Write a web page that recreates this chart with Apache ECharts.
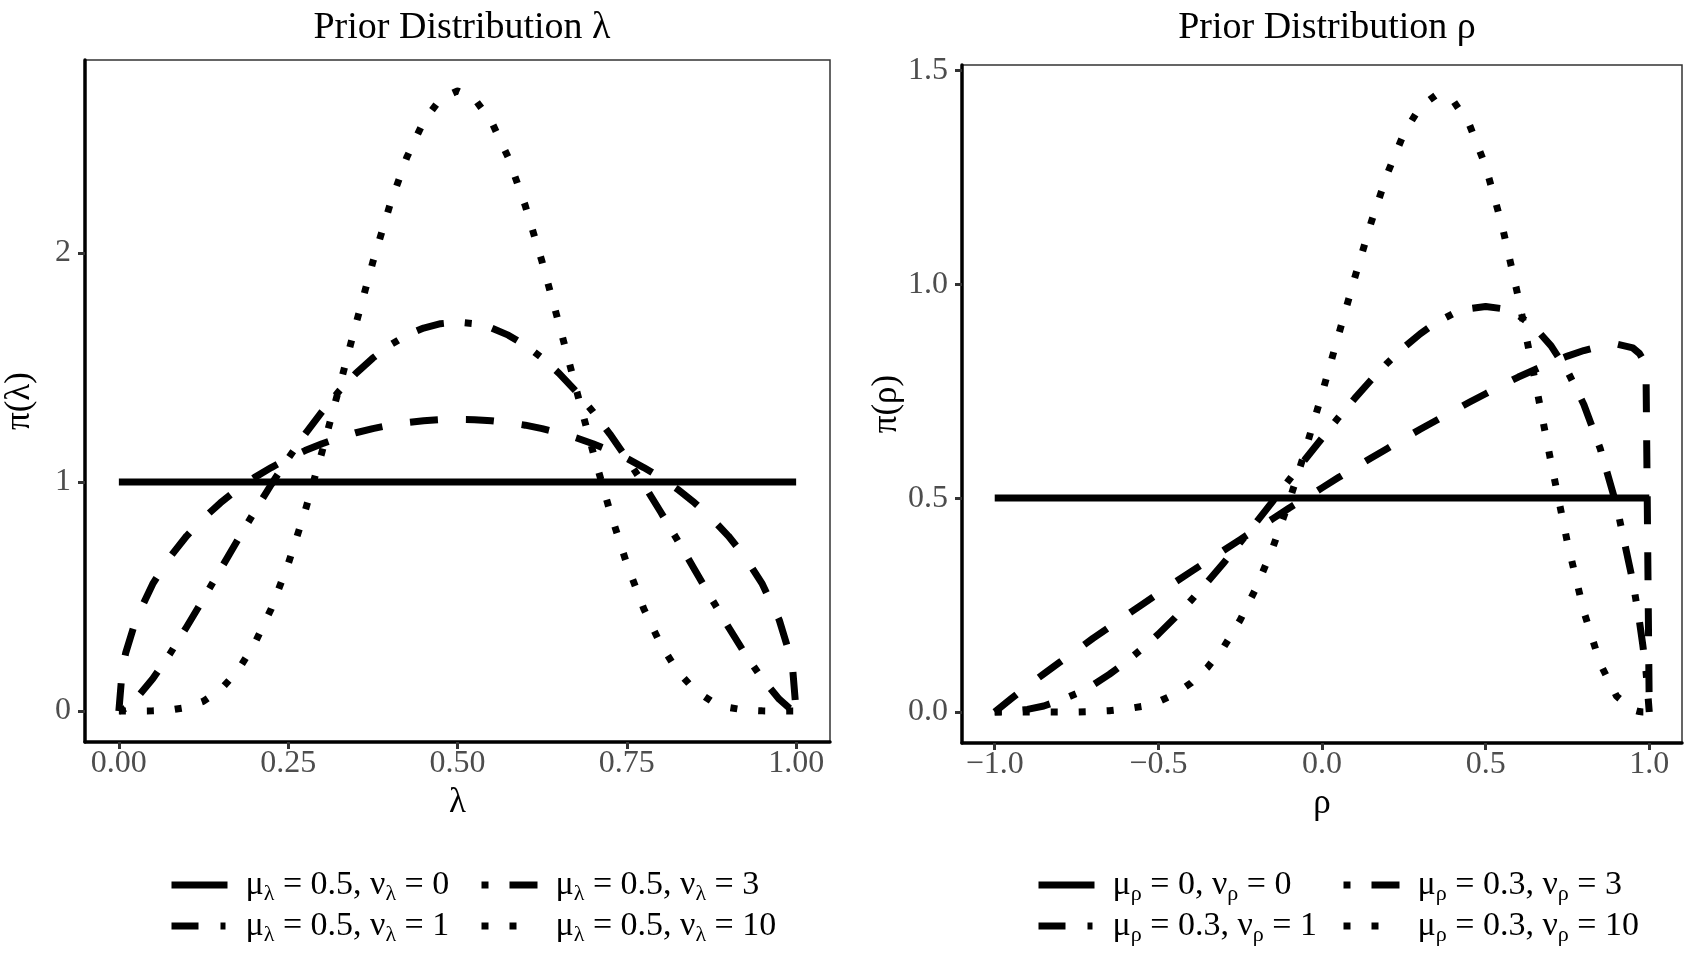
<!DOCTYPE html>
<html>
<head>
<meta charset="utf-8">
<title>Prior Distribution</title>
<script src="https://cdn.jsdelivr.net/npm/echarts@6/dist/echarts.min.js"></script>
<style>html,body{margin:0;padding:0;background:#fff;} #main{width:1686px;height:956px;}</style>
</head>
<body>
<div id="main"></div>
<script>
// lambda panel: grid of lambda values and the four prior densities
var lambdaX = [0, 0.005, 0.01, 0.025, 0.05, 0.075, 0.1, 0.125, 0.15, 0.175, 0.2, 0.225, 0.25, 0.275, 0.3, 0.325, 0.35, 0.375, 0.4, 0.425, 0.45, 0.475, 0.5,
  0.525, 0.55, 0.575, 0.6, 0.625, 0.65, 0.675, 0.7, 0.725, 0.75, 0.775, 0.8, 0.825, 0.85, 0.875, 0.9, 0.925, 0.95, 0.975, 0.99, 0.995, 1];
var lambdaFlatX = [0, 1];
var lambdaNu0 = [1, 1];
var lambdaNu1 = [0, 0.180, 0.253, 0.398, 0.555, 0.671, 0.764, 0.842, 0.909, 0.968, 1.019, 1.063, 1.103, 1.137, 1.167, 1.193, 1.215, 1.233, 1.248, 1.259, 1.267, 1.272, 1.273,
  1.272, 1.267, 1.259, 1.248, 1.233, 1.215, 1.193, 1.167, 1.137, 1.103, 1.063, 1.019, 0.968, 0.909, 0.842, 0.764, 0.671, 0.555, 0.398, 0.253, 0.180, 0];
var lambdaNu3 = [0, 0.005, 0.013, 0.052, 0.141, 0.248, 0.367, 0.491, 0.618, 0.745, 0.869, 0.989, 1.103, 1.209, 1.307, 1.396, 1.474, 1.541, 1.597, 1.641, 1.672, 1.691, 1.698,
  1.691, 1.672, 1.641, 1.597, 1.541, 1.474, 1.396, 1.307, 1.209, 1.103, 0.989, 0.869, 0.745, 0.618, 0.491, 0.367, 0.248, 0.141, 0.052, 0.013, 0.005, 0];
var lambdaNu10 = [0, 0, 0, 0, 0.001, 0.004, 0.016, 0.043, 0.093, 0.174, 0.291, 0.447, 0.642, 0.873, 1.132, 1.408, 1.689, 1.960, 2.207, 2.416, 2.574, 2.673, 2.707,
  2.673, 2.574, 2.416, 2.207, 1.960, 1.689, 1.408, 1.132, 0.873, 0.642, 0.447, 0.291, 0.174, 0.093, 0.043, 0.016, 0.004, 0.001, 0, 0, 0, 0];

// rho panel
var rhoX = [-1, -0.95, -0.9, -0.85, -0.8, -0.75, -0.7, -0.65, -0.6, -0.55, -0.5, -0.45, -0.4, -0.35, -0.3, -0.25, -0.2, -0.15, -0.1, -0.05,
  0, 0.05, 0.1, 0.15, 0.2, 0.25, 0.3, 0.35, 0.4, 0.45, 0.5, 0.55, 0.6, 0.65, 0.7, 0.75, 0.8, 0.85, 0.9, 0.95, 0.97, 0.98, 0.99, 1];
var rhoFlatX = [-1, 1];
var rhoNu0 = [0.5, 0.5];
var rhoNu1 = [0, 0.031, 0.061, 0.089, 0.117, 0.144, 0.172, 0.198, 0.225, 0.251, 0.277, 0.303, 0.328, 0.353, 0.378, 0.403, 0.428, 0.452, 0.477, 0.500,
  0.524, 0.548, 0.571, 0.594, 0.616, 0.639, 0.661, 0.682, 0.703, 0.724, 0.744, 0.764, 0.783, 0.800, 0.817, 0.832, 0.845, 0.855, 0.860, 0.851, 0.838, 0.825, 0.801, 0];
var rhoNu3 = [0, 0.001, 0.006, 0.014, 0.027, 0.043, 0.063, 0.088, 0.116, 0.148, 0.182, 0.220, 0.261, 0.304, 0.349, 0.396, 0.444, 0.493, 0.543, 0.592,
  0.640, 0.688, 0.733, 0.776, 0.816, 0.852, 0.884, 0.911, 0.931, 0.943, 0.948, 0.943, 0.927, 0.899, 0.856, 0.797, 0.719, 0.616, 0.483, 0.304, 0.212, 0.158, 0.095, 0];
var rhoNu10 = [0, 0, 0, 0, 0, 0, 0.001, 0.003, 0.007, 0.013, 0.024, 0.042, 0.068, 0.104, 0.152, 0.215, 0.292, 0.385, 0.493, 0.614,
  0.744, 0.880, 1.015, 1.144, 1.259, 1.352, 1.415, 1.443, 1.430, 1.374, 1.276, 1.138, 0.969, 0.779, 0.583, 0.396, 0.235, 0.113, 0.037, 0.005, 0.001, 0, 0, 0];

// tick labels
var lambdaXTicks = [0, 0.25, 0.5, 0.75, 1];
var lambdaYTicks = [0, 1, 2];
var rhoXTicks = [-1, -0.5, 0, 0.5, 1];
var rhoYTicks = [0, 0.5, 1, 1.5];

// legend entries: [mu, nu] per curve
var lambdaParams = [['0.5', '0'], ['0.5', '1'], ['0.5', '3'], ['0.5', '10']];
var rhoParams = [['0', '0'], ['0.3', '1'], ['0.3', '3'], ['0.3', '10']];

var FONT = 'Liberation Serif';
var dashTypes = ['solid', [28, 28], [7, 21, 28, 21], [7, 21]];
// the legend key of the dashed line shows a dash and the start of the next one
var legendDash = [null, [27, 22, 5, 20], null, null];

function pairs(xs, ys) {
  return xs.map(function (x, i) { return [x, ys[i]]; });
}
function plainName(sym, p) {
  return 'μ' + sym + ' = ' + p[0] + ', ν' + sym + ' = ' + p[1];
}
var richLabel = {};
lambdaParams.forEach(function (p) {
  richLabel[plainName('λ', p)] = '{n|μ}{s|λ}{n| = ' + p[0] + ', ν}{s|λ}{n| = ' + p[1] + '}';
});
rhoParams.forEach(function (p) {
  richLabel[plainName('ρ', p)] = '{n|μ}{s|ρ}{n| = ' + p[0] + ', ν}{s|ρ}{n| = ' + p[1] + '}';
});

function curve(name, idx, xs, ys, dash) {
  return {
    type: 'line', name: name, xAxisIndex: idx, yAxisIndex: idx,
    data: pairs(xs, ys), symbol: 'none', showSymbol: false,
    smooth: false, silent: true,
    lineStyle: { color: '#000', width: 7, type: dash, cap: 'butt', join: 'round' }
  };
}

var lamNames = lambdaParams.map(function (p) { return plainName('λ', p); });
var rhoNames = rhoParams.map(function (p) { return plainName('ρ', p); });

function xAxisOf(idx, min, max, ticks, digits, name) {
  return {
    type: 'value', gridIndex: idx, min: min, max: max,
    name: name, nameLocation: 'middle', nameGap: 42,
    nameTextStyle: { fontFamily: FONT, fontSize: 35, color: '#000' },
    axisLine: { onZero: false, lineStyle: { color: '#000', width: 3.5 } },
    axisTick: { customValues: ticks, length: 7, lineStyle: { color: '#333', width: 3 } },
    axisLabel: {
      customValues: ticks, margin: 6, fontFamily: FONT, fontSize: 32, color: '#4d4d4d',
      formatter: function (v) { return v.toFixed(digits).replace('-', '\u2212'); }
    },
    splitLine: { show: false }
  };
}
function yAxisOf(idx, min, max, ticks, digits, name) {
  return {
    type: 'value', gridIndex: idx, min: min, max: max,
    name: name, nameLocation: 'middle', nameGap: 48,
    nameTextStyle: { fontFamily: FONT, fontSize: 35, color: '#000' },
    axisLine: { onZero: false, lineStyle: { color: '#000', width: 3.5 } },
    axisTick: { customValues: ticks, length: 7, lineStyle: { color: '#333', width: 3 } },
    axisLabel: {
      customValues: ticks, margin: 14, fontFamily: FONT, fontSize: 32, color: '#4d4d4d',
      formatter: function (v) { return v.toFixed(digits); }
    },
    splitLine: { show: false }
  };
}

function legendOf(left, names, dashes) {
  return {
    orient: 'vertical', left: left, top: 863, itemWidth: 56, itemHeight: 14, itemGap: 4,
    selectedMode: false,
    data: names.map(function (n, i) {
      return dashes[i] ? { name: n, lineStyle: { type: dashes[i] } } : n;
    }),
    itemStyle: { color: 'rgba(0,0,0,0)', borderWidth: 0 },
    lineStyle: { width: 7, color: '#000' },
    formatter: function (n) { return richLabel[n]; },
    textStyle: {
      padding: [0, 0, 0, 13],
      rich: {
        n: { fontFamily: FONT, fontSize: 34, color: '#000', lineHeight: 40 },
        s: { fontFamily: FONT, fontSize: 22, color: '#000', lineHeight: 22, verticalAlign: 'bottom' }
      }
    }
  };
}

var chart = echarts.init(document.getElementById('main'));
chart.setOption({
  animation: false,
  backgroundColor: '#fff',
  title: [
    { text: 'Prior Distribution λ', left: 457, top: 4, textAlign: 'center',
      textStyle: { fontFamily: FONT, fontSize: 38, fontWeight: 'normal', color: '#000' } },
    { text: 'Prior Distribution ρ', left: 1322, top: 4, textAlign: 'center',
      textStyle: { fontFamily: FONT, fontSize: 38, fontWeight: 'normal', color: '#000' } }
  ],
  grid: [
    { left: 85, top: 60, width: 745, height: 682, show: true, borderColor: '#333', borderWidth: 1.5 },
    { left: 962, top: 65, width: 720, height: 678, show: true, borderColor: '#333', borderWidth: 1.5 }
  ],
  xAxis: [
    xAxisOf(0, -0.05, 1.05, lambdaXTicks, 2, 'λ'),
    xAxisOf(1, -1.1, 1.1, rhoXTicks, 1, 'ρ')
  ],
  yAxis: [
    yAxisOf(0, -0.135, 2.842, lambdaYTicks, 0, 'π(λ)'),
    yAxisOf(1, -0.0725, 1.5125, rhoYTicks, 1, 'π(ρ)')
  ],
  legend: [
    legendOf(163, [lamNames[0], lamNames[1]], [legendDash[0], legendDash[1]]),
    legendOf(473, [lamNames[2], lamNames[3]], [legendDash[2], legendDash[3]]),
    legendOf(1030, [rhoNames[0], rhoNames[1]], [legendDash[0], legendDash[1]]),
    legendOf(1335, [rhoNames[2], rhoNames[3]], [legendDash[2], legendDash[3]])
  ],
  series: [
    curve(lamNames[0], 0, lambdaFlatX, lambdaNu0, dashTypes[0]),
    curve(lamNames[1], 0, lambdaX, lambdaNu1, dashTypes[1]),
    curve(lamNames[2], 0, lambdaX, lambdaNu3, dashTypes[2]),
    curve(lamNames[3], 0, lambdaX, lambdaNu10, dashTypes[3]),
    curve(rhoNames[0], 1, rhoFlatX, rhoNu0, dashTypes[0]),
    curve(rhoNames[1], 1, rhoX, rhoNu1, dashTypes[1]),
    curve(rhoNames[2], 1, rhoX, rhoNu3, dashTypes[2]),
    curve(rhoNames[3], 1, rhoX, rhoNu10, dashTypes[3])
  ]
});
</script>
</body>
</html>
